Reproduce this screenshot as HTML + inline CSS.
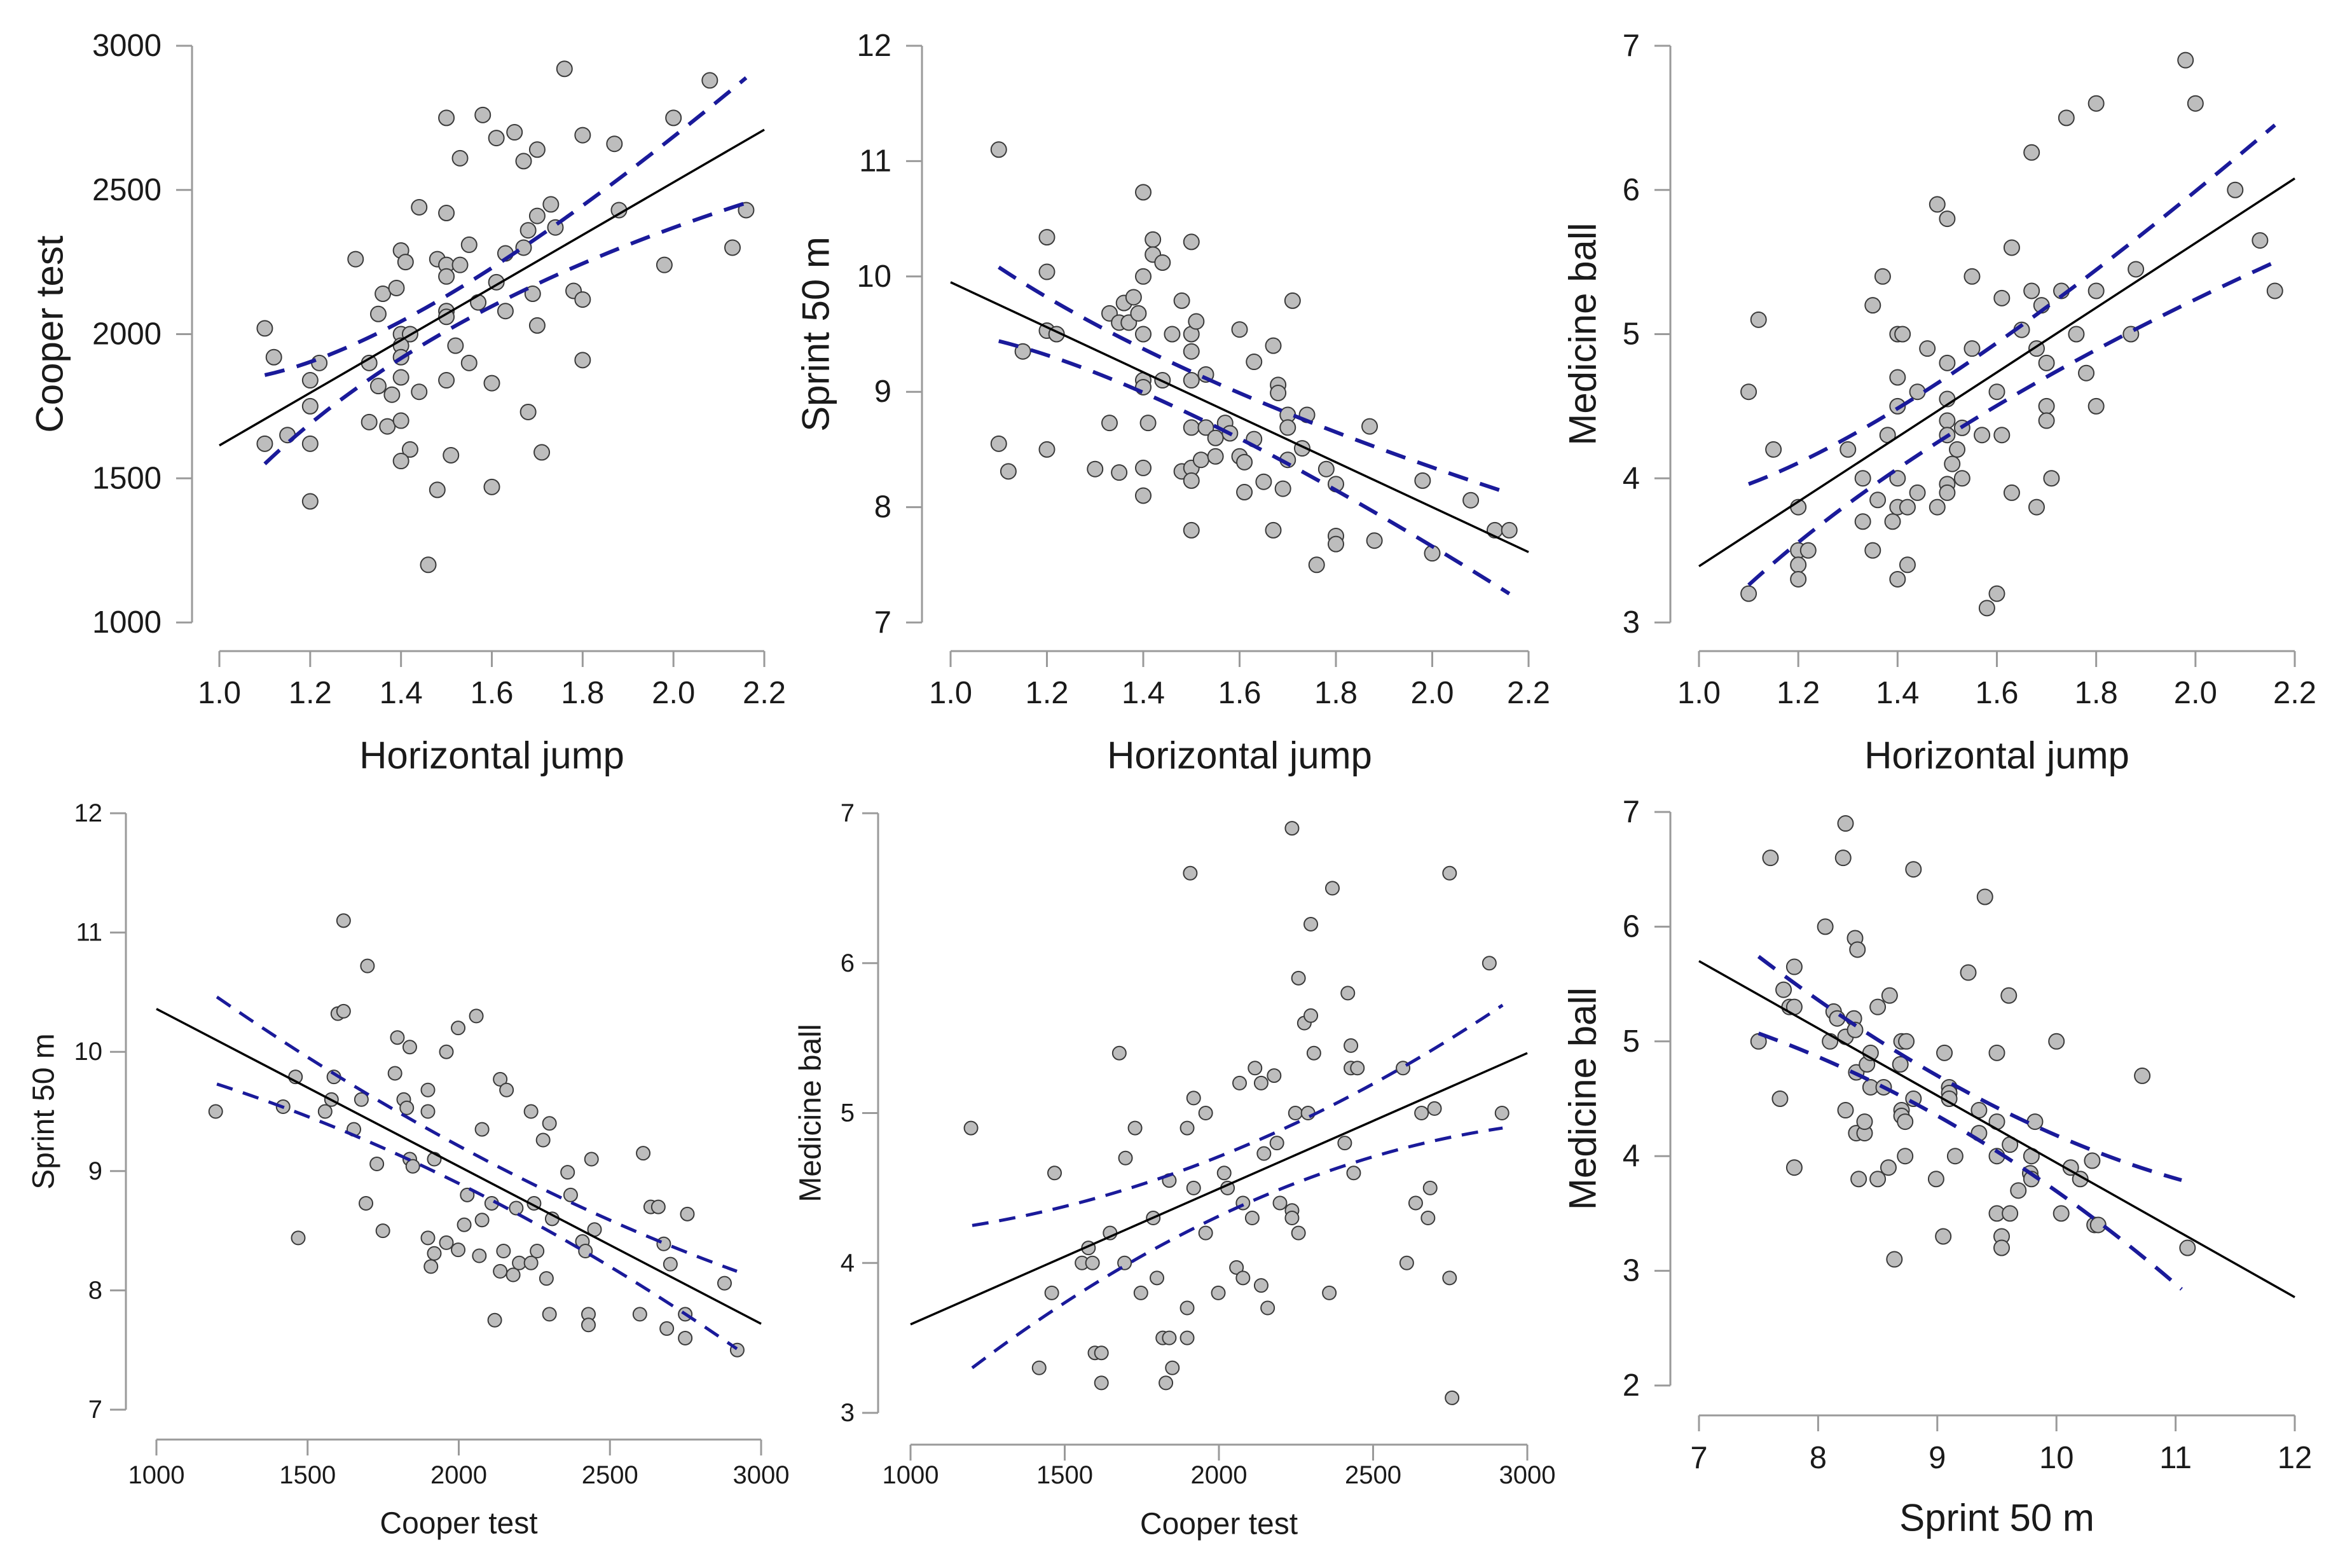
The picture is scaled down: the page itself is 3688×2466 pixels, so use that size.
<!DOCTYPE html>
<html><head><meta charset="utf-8"><style>
html,body{margin:0;padding:0;background:#fff;}
svg{display:block;font-family:"Liberation Sans",Arial,sans-serif;}
</style></head><body>
<svg id="chart" width="3688" height="2466" viewBox="0 0 3688 2466" xmlns="http://www.w3.org/2000/svg"></svg>
<script>
// ---- Panel 1: Horizontal jump vs Cooper test ----
const p1X=[1.10,1.12,1.10,1.15,1.20,1.20,1.20,1.20,1.22,1.30,1.33,1.33,1.35,1.35,1.36,1.37,1.38,1.39,1.40,1.41,1.40,1.42,1.40,1.40,1.40,1.40,1.42,1.40,1.44,1.44,1.48,1.48,1.46,1.50,1.50,1.50,1.50,1.50,1.50,1.50,1.51,1.52,1.53,1.53,1.55,1.55,1.57,1.58,1.60,1.60,1.61,1.61,1.63,1.63,1.65,1.67,1.67,1.68,1.68,1.69,1.70,1.70,1.70,1.71,1.73,1.74,1.76,1.78,1.80,1.80,1.80,1.87,1.88,1.98,2.00,2.08,2.13,2.16];
const p1Y=[2020,1920,1620,1650,1840,1750,1620,1420,1900,2260,1900,1695,2070,1820,2140,1680,1790,2160,2290,2250,2000,2000,1960,1920,1850,1700,1600,1560,2440,1800,2260,1460,1200,2750,2420,2240,2200,2080,2060,1840,1580,1960,2610,2240,2310,1900,2110,2760,1830,1470,2680,2180,2280,2080,2700,2600,2300,2360,1730,2140,2640,2410,2030,1590,2450,2370,2920,2150,2690,2120,1910,2660,2430,2240,2750,2880,2300,2430];
const p1Fit=[1614,2709];
const p1CiX=[1.10,1.55,2.16];
const p1CiUp=[1858,2180,2889];
const p1CiLo=[1550,2055,2455];
const p1XTicks=[1.0,1.2,1.4,1.6,1.8,2.0,2.2];
const p1YTicks=[1000,1500,2000,2500,3000];

// ---- Panel 2: Horizontal jump vs Sprint 50 m ----
const p2X=[1.10,1.10,1.12,1.15,1.20,1.20,1.20,1.22,1.20,1.30,1.33,1.33,1.35,1.35,1.36,1.37,1.38,1.39,1.40,1.40,1.40,1.40,1.40,1.40,1.40,1.41,1.42,1.42,1.44,1.44,1.46,1.48,1.48,1.50,1.50,1.50,1.50,1.50,1.50,1.50,1.50,1.51,1.52,1.53,1.53,1.55,1.55,1.57,1.58,1.60,1.60,1.61,1.61,1.63,1.63,1.65,1.67,1.67,1.68,1.68,1.69,1.70,1.70,1.70,1.71,1.73,1.74,1.76,1.78,1.80,1.80,1.80,1.87,1.88,1.98,2.00,2.08,2.13,2.16];
const p2Y=[11.10,8.55,8.31,9.35,10.34,10.04,9.53,9.50,8.50,8.33,9.68,8.73,9.60,8.30,9.77,9.60,9.82,9.68,10.73,10.00,9.50,9.10,9.04,8.34,8.10,8.73,10.32,10.19,10.12,9.10,9.50,9.79,8.31,10.30,9.50,9.35,9.10,8.69,8.34,8.23,7.80,9.61,8.41,9.15,8.69,8.60,8.44,8.73,8.64,9.54,8.44,8.39,8.13,9.26,8.59,8.22,9.40,7.80,9.06,8.99,8.16,8.80,8.69,8.41,9.79,8.51,8.80,7.50,8.33,8.20,7.75,7.68,8.70,7.71,8.23,7.60,8.06,7.80,7.80];
const p2Fit=[9.95,7.61];
const p2CiX=[1.10,1.55,2.16];
const p2CiUp=[10.08,9.08,8.12];
const p2CiLo=[9.44,8.70,7.25];
const p2XTicks=[1.0,1.2,1.4,1.6,1.8,2.0,2.2];
const p2YTicks=[7,8,9,10,11,12];

// ---- Panel 3: Horizontal jump vs Medicine ball ----
const p3X=[1.10,1.10,1.12,1.15,1.20,1.20,1.20,1.20,1.22,1.30,1.33,1.33,1.35,1.35,1.36,1.37,1.38,1.39,1.40,1.41,1.40,1.40,1.40,1.40,1.40,1.42,1.42,1.44,1.44,1.46,1.48,1.48,1.50,1.50,1.50,1.50,1.50,1.50,1.50,1.51,1.52,1.53,1.53,1.55,1.55,1.57,1.58,1.60,1.60,1.61,1.61,1.63,1.63,1.65,1.67,1.67,1.68,1.68,1.69,1.70,1.70,1.70,1.71,1.73,1.74,1.76,1.78,1.80,1.80,1.80,1.87,1.88,1.98,2.00,2.08,2.13,2.16];
const p3Y=[4.60,3.20,5.10,4.20,3.80,3.50,3.40,3.30,3.50,4.20,4.00,3.70,5.20,3.50,3.85,5.40,4.30,3.70,5.00,5.00,4.70,4.50,4.00,3.80,3.30,3.80,3.40,4.60,3.90,4.90,5.90,3.80,5.80,4.80,4.55,4.40,4.30,3.96,3.90,4.10,4.20,4.35,4.00,5.40,4.90,4.30,3.10,4.60,3.20,5.25,4.30,5.60,3.90,5.03,6.26,5.30,4.90,3.80,5.20,4.80,4.50,4.40,4.00,5.30,6.50,5.00,4.73,6.60,5.30,4.50,5.00,5.45,6.90,6.60,6.00,5.65,5.30];
const p3Fit=[3.39,6.08];
const p3CiX=[1.10,1.55,2.16];
const p3CiUp=[3.96,4.82,6.45];
const p3CiLo=[3.26,4.40,5.50];
const p3XTicks=[1.0,1.2,1.4,1.6,1.8,2.0,2.2];
const p3YTicks=[3,4,5,6,7];

// ---- Panel 4: Cooper test vs Sprint 50 m ----
const p4X=[1196,1419,1460,1469,1558,1579,1587,1600,1619,1619,1653,1678,1693,1698,1729,1749,1789,1797,1818,1828,1838,1838,1848,1898,1898,1898,1908,1919,1919,1959,1959,1998,1998,2018,2028,2058,2068,2077,2077,2109,2119,2137,2137,2148,2158,2180,2190,2200,2239,2239,2249,2259,2279,2290,2300,2300,2309,2360,2370,2409,2419,2429,2429,2439,2449,2599,2610,2635,2660,2678,2688,2700,2749,2749,2756,2879,2921];
const p4Y=[9.50,9.54,9.79,8.44,9.50,9.60,9.79,10.32,10.34,11.10,9.35,9.60,8.73,10.72,9.06,8.50,9.82,10.12,9.60,9.53,10.04,9.10,9.04,9.68,9.50,8.44,8.20,8.31,9.10,10.00,8.40,10.20,8.34,8.55,8.80,10.30,8.29,9.35,8.59,8.73,7.75,9.77,8.16,8.33,9.68,8.13,8.69,8.23,9.50,8.23,8.73,8.33,9.26,8.10,9.40,7.80,8.60,8.99,8.80,8.41,8.33,7.80,7.71,9.10,8.51,7.80,9.15,8.70,8.70,8.39,7.68,8.22,7.80,7.60,8.64,8.06,7.50];
const p4Fit=[10.36,7.72];
const p4CiX=[1200,2060,2920];
const p4CiUp=[10.46,9.13,8.16];
const p4CiLo=[9.73,8.82,7.51];
const p4XTicks=[1000,1500,2000,2500,3000];
const p4YTicks=[7,8,9,10,11,12];

// ---- Panel 5: Cooper test vs Medicine ball ----
const p5X=[1196,1417,1458,1467,1556,1577,1590,1598,1619,1619,1647,1677,1694,1697,1728,1747,1787,1799,1818,1839,1828,1839,1849,1897,1897,1897,1907,1918,1918,1957,1957,1998,2017,2028,2057,2067,2078,2078,2108,2117,2137,2137,2146,2158,2179,2188,2198,2237,2237,2237,2248,2258,2258,2277,2289,2298,2298,2308,2358,2368,2408,2418,2428,2428,2437,2449,2597,2609,2638,2657,2678,2685,2699,2748,2748,2756,2877,2918];
const p5Y=[4.90,3.30,3.80,4.60,4.00,4.10,4.00,3.40,3.40,3.20,4.20,5.40,4.00,4.70,4.90,3.80,4.30,3.90,3.50,3.50,3.20,4.55,3.30,3.50,3.70,4.90,6.60,5.10,4.50,5.00,4.20,3.80,4.60,4.50,3.97,5.20,3.90,4.40,4.30,5.30,5.20,3.85,4.73,3.70,5.25,4.80,4.40,6.90,4.35,4.30,5.00,5.90,4.20,5.60,5.00,6.26,5.65,5.40,3.80,6.50,4.80,5.80,5.45,5.30,4.60,5.30,5.30,4.00,4.40,5.00,4.30,4.50,5.03,6.60,3.90,3.10,6.00,5.00];
const p5Fit=[3.59,5.40];
const p5CiX=[1200,2060,2920];
const p5CiUp=[4.25,4.76,5.72];
const p5CiLo=[3.30,4.37,4.90];
const p5XTicks=[1000,1500,2000,2500,3000];
const p5YTicks=[3,4,5,6,7];

// ---- Panel 6: Sprint 50 m vs Medicine ball ----
const p6X=[7.50,7.60,7.68,7.71,7.76,7.80,7.80,7.80,8.06,8.10,8.13,8.16,8.21,8.23,8.23,8.23,8.30,8.31,8.31,8.33,8.32,8.32,8.34,8.39,8.39,8.41,8.44,8.44,8.50,8.50,8.55,8.59,8.60,8.64,8.69,8.70,8.74,8.70,8.70,8.73,8.73,8.80,8.80,8.99,9.06,9.05,9.10,9.10,9.10,9.15,9.26,9.35,9.35,9.40,9.50,9.50,9.50,9.50,9.54,9.54,9.60,9.61,9.61,9.68,9.78,9.79,9.79,9.82,10.00,10.04,10.12,10.20,10.30,10.32,10.35,10.72,11.10];
const p6Y=[5.00,6.60,4.50,5.45,5.30,5.65,5.30,3.90,6.00,5.00,5.26,5.20,6.60,6.90,5.04,4.40,5.20,5.10,5.90,5.80,4.73,4.20,3.80,4.20,4.30,4.80,4.90,4.60,5.30,3.80,4.60,3.90,5.40,3.10,4.80,5.00,5.00,4.40,4.35,4.30,4.00,6.50,4.50,3.80,4.90,3.30,4.60,4.55,4.50,4.00,5.60,4.40,4.20,6.26,4.90,4.30,4.00,3.50,3.30,3.20,5.40,3.50,4.10,3.70,3.85,4.00,3.80,4.30,5.00,3.50,3.90,3.80,3.96,3.40,3.40,4.70,3.20];
const p6Fit=[5.70,2.77];
const p6CiX=[7.5,9.3,11.05];
const p6CiUp=[5.74,4.53,3.79];
const p6CiLo=[5.07,4.17,2.84];
const p6XTicks=[7,8,9,10,11,12];
const p6YTicks=[2,3,4,5,6,7];

const NS="http://www.w3.org/2000/svg";
const svg=document.getElementById('chart');
function mk(tag,attrs,parent){const e=document.createElementNS(NS,tag);for(const k in attrs)e.setAttribute(k,attrs[k]);(parent||svg).appendChild(e);return e;}

const panels=[
 {id:'p1',X:p1X,Y:p1Y,fit:p1Fit,ciX:p1CiX,ciU:p1CiUp,ciL:p1CiLo,xt:p1XTicks,yt:p1YTicks,xd:[1,2.2],yd:[1000,3000],ax:302,xp:[345,1202],yp:[979,72],xa:1024,xl:1090,xT:1188,yT:78,tf:49,ttf:60,r:12,xfmt:v=>v.toFixed(1),xTitle:'Horizontal jump',yTitle:'Cooper test'},
 {id:'p2',X:p2X,Y:p2Y,fit:p2Fit,ciX:p2CiX,ciU:p2CiUp,ciL:p2CiLo,xt:p2XTicks,yt:p2YTicks,xd:[1,2.2],yd:[7,12],ax:1450,xp:[1495,2404],yp:[979,72],xa:1024,xl:1090,xT:1188,yT:1283,tf:49,ttf:60,r:12,xfmt:v=>v.toFixed(1),xTitle:'Horizontal jump',yTitle:'Sprint 50 m'},
 {id:'p3',X:p3X,Y:p3Y,fit:p3Fit,ciX:p3CiX,ciU:p3CiUp,ciL:p3CiLo,xt:p3XTicks,yt:p3YTicks,xd:[1,2.2],yd:[3,7],ax:2627,xp:[2672,3609],yp:[979,72],xa:1024,xl:1090,xT:1188,yT:2489,tf:49,ttf:60,r:12,xfmt:v=>v.toFixed(1),xTitle:'Horizontal jump',yTitle:'Medicine ball'},
 {id:'p4',X:p4X,Y:p4Y,fit:p4Fit,ciX:p4CiX,ciU:p4CiUp,ciL:p4CiLo,xt:p4XTicks,yt:p4YTicks,xd:[1000,3000],yd:[7,12],ax:198,xp:[246,1197],yp:[2217,1279],xa:2264,xl:2320,xT:2396,yT:69,tf:40,ttf:48,r:10.5,xfmt:v=>String(v),xTitle:'Cooper test',yTitle:'Sprint 50 m'},
 {id:'p5',X:p5X,Y:p5Y,fit:p5Fit,ciX:p5CiX,ciU:p5CiUp,ciL:p5CiLo,xt:p5XTicks,yt:p5YTicks,xd:[1000,3000],yd:[3,7],ax:1381,xp:[1432,2402],yp:[2222,1279],xa:2272,xl:2320,xT:2397,yT:1275,tf:40,ttf:48,r:10.5,xfmt:v=>String(v),xTitle:'Cooper test',yTitle:'Medicine ball'},
 {id:'p6',X:p6X,Y:p6Y,fit:p6Fit,ciX:p6CiX,ciU:p6CiUp,ciL:p6CiLo,xt:p6XTicks,yt:p6YTicks,xd:[7,12],yd:[2,7],ax:2627,xp:[2672,3609],yp:[2179,1277],xa:2226,xl:2293,xT:2387,yT:2489,tf:49,ttf:60,r:12,xfmt:v=>String(v),xTitle:'Sprint 50 m',yTitle:'Medicine ball'}
];

panels.forEach(p=>{
 const sx=v=>p.xp[0]+(v-p.xd[0])/(p.xd[1]-p.xd[0])*(p.xp[1]-p.xp[0]);
 const sy=v=>p.yp[0]+(v-p.yd[0])/(p.yd[1]-p.yd[0])*(p.yp[1]-p.yp[0]);
 const g=mk('g',{});
 
 
 const ya=mk('g',{},g);
 
 
 mk('line',{x1:p.ax,x2:p.ax,y1:sy(p.yt[0]),y2:sy(p.yt[p.yt.length-1]),stroke:'#9a9a9a','stroke-width':3},ya);
 p.yt.forEach(t=>{
  const y=sy(t);
  mk('line',{x1:p.ax-25,x2:p.ax,y1:y,y2:y,stroke:'#9a9a9a','stroke-width':3},ya);
  const tx=mk('text',{x:p.ax-(p.tf>45?48:37),y:y,'text-anchor':'end','dominant-baseline':'central','font-size':p.tf,fill:'#1a1a1a'},ya);
  tx.textContent=String(t);
  
  
 });
 const xa=mk('g',{},g);
 
 
 mk('line',{x1:sx(p.xt[0]),x2:sx(p.xt[p.xt.length-1]),y1:p.xa,y2:p.xa,stroke:'#9a9a9a','stroke-width':3},xa);
 p.xt.forEach(t=>{
  const x=sx(t);
  mk('line',{x1:x,x2:x,y1:p.xa,y2:p.xa+25,stroke:'#9a9a9a','stroke-width':3},xa);
  const tx=mk('text',{x:x,y:p.xl,'text-anchor':'middle','dominant-baseline':'central','font-size':p.tf,fill:'#1a1a1a'},xa);
  tx.textContent=p.xfmt(t);
  
  
 });
 const xt=mk('text',{x:(p.xp[0]+p.xp[1])/2,y:p.xT,'text-anchor':'middle','dominant-baseline':'central','font-size':p.ttf,fill:'#1a1a1a'},g);
 xt.textContent=p.xTitle;
 
 
 const cy=(p.yp[0]+p.yp[1])/2;
 const yt=mk('text',{x:p.yT,y:cy,'text-anchor':'middle','dominant-baseline':'central','font-size':p.ttf,fill:'#1a1a1a',transform:`rotate(-90 ${p.yT} ${cy})`},g);
 yt.textContent=p.yTitle;
 
 
 const pts=mk('g',{},g);
 
 
 p.X.forEach((v,i)=>{
  const c=mk('circle',{cx:sx(v),cy:sy(p.Y[i]),r:p.r,fill:'#bdbdbd',stroke:'#3a3a3a','stroke-width':2},pts);
  
  
 });
 const rl=mk('line',{x1:sx(p.xd[0]),y1:sy(p.fit[0]),x2:sx(p.xd[1]),y2:sy(p.fit[1]),stroke:'#000','stroke-width':3.5},g);
 
 
 [['upper',p.ciU],['lower',p.ciL]].forEach(([nm,arr])=>{
  const P=p.ciX.map((v,i)=>[sx(v),sy(arr[i])]);
  const c=[2*P[1][0]-(P[0][0]+P[2][0])/2,2*P[1][1]-(P[0][1]+P[2][1])/2];
  const path=mk('path',{d:`M${P[0][0]},${P[0][1]} Q${c[0]},${c[1]} ${P[2][0]},${P[2][1]}`,fill:'none',stroke:'#1a1a9a','stroke-width':p.r>11?6:5,'stroke-dasharray':p.r>11?'32 20':'26 17'},g);
  
  
 });
});
</script>
</body></html>
